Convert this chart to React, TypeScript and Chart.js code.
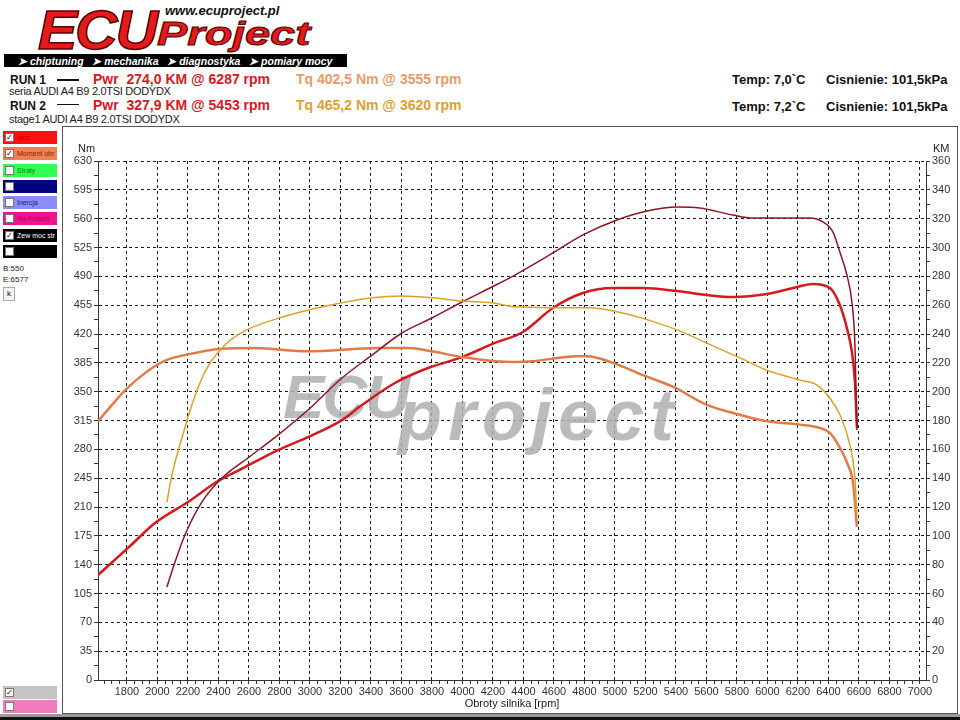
import React, { useEffect, useRef } from "react";
import { Chart, registerables } from "chart.js";
Chart.register(...registerables);

// ---------- DATA ----------
const RUN1_TQ_RPM = [1610, 1702, 1800, 2030, 2246, 2423, 2639, 2987, 3446, 3643, 3800, 3997, 4213, 4344, 4462, 4751, 4816, 4987, 5184, 5380, 5603, 5820, 5997, 6213, 6344, 6410, 6475, 6528, 6561, 6587];
const RUN1_TQ = [314, 334, 354, 386, 397, 402, 403, 399, 403, 403, 399, 392, 387, 386, 387, 393, 393, 385, 370, 356, 334, 322, 314, 310, 306, 300, 282, 261, 240, 186];

const RUN1_PWR_RPM = [1610, 1807, 1984, 2200, 2397, 2574, 2790, 2987, 3210, 3341, 3557, 3774, 3997, 4213, 4397, 4593, 4790, 4987, 5184, 5407, 5603, 5774, 5997, 6167, 6298, 6410, 6475, 6521, 6554, 6574, 6587];
const RUN1_PWR = [72.8, 91.6, 108.9, 123.5, 138.0, 147.7, 159.5, 168.5, 180.3, 190.7, 206.0, 216.4, 224.0, 233.8, 241.4, 258.0, 268.4, 271.9, 271.9, 269.8, 267.0, 265.6, 267.7, 271.9, 274.7, 271.9, 260.1, 244.2, 227.5, 206.7, 174.8];

const RUN2_TQ_RPM = [2062, 2095, 2161, 2226, 2311, 2423, 2554, 2790, 2987, 3210, 3407, 3603, 3800, 3997, 4193, 4344, 4593, 4836, 5013, 5184, 5407, 5603, 5820, 5997, 6213, 6325, 6410, 6475, 6541, 6574, 6587];
const RUN2_TQ = [216, 249, 294, 334, 374, 403, 422, 439, 449, 458, 464, 466, 464, 460, 458, 453, 452, 452, 447, 439, 425, 409, 391, 376, 364, 358, 342, 322, 285, 245, 200];

const RUN2_PWR_RPM = [2062, 2115, 2180, 2292, 2423, 2593, 2790, 2987, 3210, 3407, 3603, 3800, 3997, 4193, 4344, 4593, 4790, 5013, 5210, 5407, 5557, 5774, 5905, 6167, 6279, 6364, 6430, 6475, 6521, 6554, 6574, 6587];
const RUN2_PWR = [64.5, 81.8, 100.6, 123.5, 140.1, 154.0, 169.9, 187.3, 209.5, 225.4, 240.7, 251.1, 262.2, 272.6, 280.9, 296.2, 308.7, 319.1, 325.3, 328.1, 327.4, 322.5, 320.5, 320.5, 320.5, 317.7, 310.7, 296.9, 280.9, 262.2, 232.4, 173.4];

const X_TICK_LABELS = [1800, 2000, 2200, 2400, 2600, 2800, 3000, 3200, 3400, 3600, 3800, 4000, 4200, 4400, 4600, 4800, 5000, 5200, 5400, 5600, 5800, 6000, 6200, 6400, 6600, 6800, 7000];
const NM_TICK_LABELS = [0, 35, 70, 105, 140, 175, 210, 245, 280, 315, 350, 385, 420, 455, 490, 525, 560, 595, 630];
const KM_TICK_LABELS = [0, 20, 40, 60, 80, 100, 120, 140, 160, 180, 200, 220, 240, 260, 280, 300, 320, 340, 360];

const C_PWR1 = "#D41A1F";
const C_TQ1 = "#E27A45";
const C_PWR2 = "#8E1622";
const C_TQ2 = "#DDA12A";

const FONT = "Arial, 'Liberation Sans', sans-serif";

const pts = (xs: number[], ys: number[]) => xs.map((x, i) => ({ x, y: ys[i] }));

const watermark = {
  id: "watermark",
  beforeDatasetsDraw(chart: any) {
    const ctx = chart.ctx;
    ctx.save();
    ctx.fillStyle = "rgba(175,175,175,0.85)";
    ctx.font = "italic bold 62px Arial, 'Liberation Sans', sans-serif";
    (ctx as any).letterSpacing = "-2px";
    ctx.fillText("ECU", 220, 291);
    ctx.font = "italic bold 72px Arial, 'Liberation Sans', sans-serif";
    (ctx as any).letterSpacing = "6px";
    ctx.fillText("project", 335, 313);
    ctx.restore();
  },
};

function ChartView() {
  const ref = useRef<HTMLCanvasElement | null>(null);
  useEffect(() => {
    if (!ref.current) return;
    const xTicks: { value: number }[] = [];
    for (let v = 1650; v <= 7000; v += 50) xTicks.push({ value: v });
    const chart = new Chart(ref.current, {
      type: "line",
      data: {
        datasets: [
          { data: pts(RUN2_TQ_RPM, RUN2_TQ), borderColor: C_TQ2, borderWidth: 1.5, yAxisID: "y" },
          { data: pts(RUN2_PWR_RPM, RUN2_PWR), borderColor: C_PWR2, borderWidth: 1.5, yAxisID: "y1" },
          { data: pts(RUN1_TQ_RPM, RUN1_TQ), borderColor: C_TQ1, borderWidth: 2.5, yAxisID: "y" },
          { data: pts(RUN1_PWR_RPM, RUN1_PWR), borderColor: C_PWR1, borderWidth: 2.5, yAxisID: "y1" },
        ].map((d) => ({ ...d, pointRadius: 0, fill: false, cubicInterpolationMode: "monotone" as const })),
      },
      options: {
        responsive: false,
        animation: false,
        layout: { padding: { top: 34, left: 0, right: 0, bottom: 0 } },
        plugins: { legend: { display: false }, tooltip: { enabled: false } },
        scales: {
          x: {
            type: "linear",
            min: 1610,
            max: 7040,
            afterBuildTicks: (s: any) => {
              s.ticks = xTicks.map((t) => ({ ...t }));
            },
            afterFit: (s: any) => {
              s.height = 33;
            },
            ticks: {
              autoSkip: false,
              maxRotation: 0,
              padding: 1,
              color: "#333",
              font: { family: FONT, size: 11 },
              callback: (v: any) => (X_TICK_LABELS.includes(Number(v)) ? String(v) : ""),
            },
            grid: {
              color: (c: any) => (c.tick && X_TICK_LABELS.includes(c.tick.value) ? "#1a1a1a" : "rgba(0,0,0,0)"),
              tickColor: "#333",
              tickLength: 4,
              lineWidth: 1,
            },
            border: { display: true, color: "#333", width: 1, dash: [3, 3] },
            title: {
              display: true,
              text: "Obroty silnika [rpm]",
              color: "#222",
              font: { family: FONT, size: 11 },
              padding: { top: 0, bottom: 2 },
            },
          },
          y: {
            position: "left",
            min: 0,
            max: 630,
            afterFit: (s: any) => {
              s.width = 35;
            },
            ticks: {
              stepSize: 17.5,
              autoSkip: false,
              padding: 2,
              color: "#333",
              font: { family: FONT, size: 11 },
              callback: (v: any) => (NM_TICK_LABELS.includes(Number(v)) ? String(v) : ""),
            },
            grid: {
              color: (c: any) => (c.tick && NM_TICK_LABELS.includes(c.tick.value) && c.tick.value > 0 ? "#1a1a1a" : "rgba(0,0,0,0)"),
              tickColor: "#333",
              tickLength: 4,
            },
            border: { display: true, color: "#333", width: 1, dash: [3, 3] },
          },
          y1: {
            position: "right",
            min: 0,
            max: 360,
            afterFit: (s: any) => {
              s.width = 31;
            },
            ticks: {
              stepSize: 10,
              autoSkip: false,
              padding: 2,
              color: "#333",
              font: { family: FONT, size: 11 },
              callback: (v: any) => (KM_TICK_LABELS.includes(Number(v)) ? String(v) : ""),
            },
            grid: { drawOnChartArea: false, color: "#333", tickColor: "#333", tickLength: 4 },
            border: { display: true, color: "#333", width: 1 },
          },
        },
      },
      plugins: [watermark],
    } as any);
    return () => chart.destroy();
  }, []);
  return <canvas ref={ref} width={894} height={586} style={{ position: "absolute", left: 63, top: 127 }} />;
}

const abs = (left: number, top: number, extra: React.CSSProperties = {}): React.CSSProperties => ({
  position: "absolute",
  left,
  top,
  lineHeight: 1,
  whiteSpace: "nowrap",
  ...extra,
});

const SIDE_ROWS = [
  { top: 131, bg: "#FF1010", label: "Moc", fg: "#C00000", checked: true },
  { top: 147, bg: "#F08050", label: "Moment obr", fg: "#7A2A10", checked: true },
  { top: 164, bg: "#30FF50", label: "Straty", fg: "#108020", checked: false },
  { top: 180, bg: "#000080", label: "", fg: "#fff", checked: false },
  { top: 196, bg: "#8C8CFF", label: "Inercja", fg: "#202080", checked: false },
  { top: 212, bg: "#F0148C", label: "Na Kolach", fg: "#B00060", checked: false },
  { top: 229, bg: "#000000", label: "Zew moc str", fg: "#fff", checked: true },
  { top: 245, bg: "#000000", label: "", fg: "#fff", checked: false },
];

function SideRow({ top, bg, label, fg, checked, width = 54 }: any) {
  return (
    <div style={abs(3, top, { width, height: 13, background: bg })}>
      <div
        style={abs(2, 2, {
          width: 9,
          height: 9,
          background: "#fff",
          border: "1px solid #777",
          boxSizing: "border-box",
          fontSize: 8,
          color: "#000",
          textAlign: "center",
        })}
      >
        {checked ? "✓" : ""}
      </div>
      <div style={abs(14, 3, { fontSize: 7, color: fg, fontFamily: FONT })}>{label}</div>
    </div>
  );
}

export default function App() {
  useEffect(() => {
    document.body.style.margin = "0";
  }, []);
  return (
    <div style={{ position: "relative", width: 960, height: 720, background: "#fff", fontFamily: FONT, overflow: "hidden" }}>
      {/* Logo */}
      <div
        style={abs(38, 2, {
          fontSize: 56,
          fontWeight: 900,
          fontStyle: "italic",
          color: "#E31B1B",
          letterSpacing: -2,
          WebkitTextStroke: "1.5px #5a0000",
          transform: "scaleX(1.05)",
          transformOrigin: "left top",
        })}
      >
        ECU
      </div>
      <div style={abs(165, 4, { fontSize: 13, fontWeight: 700, fontStyle: "italic", color: "#111" })}>www.ecuproject.pl</div>
      <div
        style={abs(157, 16, {
          fontSize: 34,
          fontWeight: 900,
          fontStyle: "italic",
          color: "#E31B1B",
          WebkitTextStroke: "1px #5a0000",
          transform: "scaleX(1.33)",
          transformOrigin: "left top",
        })}
      >
        Project
      </div>
      <div style={abs(4, 54, { width: 343, height: 13, background: "#000" })}>
        <div style={abs(14, 1.5, { fontSize: 10.5, fontWeight: 700, fontStyle: "italic", color: "#fff", fontFamily: FONT })}>
          ➤ chiptuning&nbsp;&nbsp; ➤ mechanika&nbsp;&nbsp; ➤ diagnostyka&nbsp;&nbsp; ➤ pomiary mocy
        </div>
      </div>

      {/* Run info */}
      <div style={abs(10, 74, { fontSize: 12, fontWeight: 700, color: "#111" })}>RUN 1</div>
      <div style={abs(57, 79, { width: 22, height: 1.5, background: "#111" })} />
      <div style={abs(93, 72, { fontSize: 14, fontWeight: 700, color: C_PWR1 })}>Pwr&nbsp; 274,0 KM @ 6287 rpm</div>
      <div style={abs(296, 72, { fontSize: 14, fontWeight: 700, color: "#E99A68" })}>Tq 402,5 Nm @ 3555 rpm</div>
      <div style={abs(9, 86, { fontSize: 11, color: "#222", letterSpacing: -0.3 })}>seria AUDI A4 B9 2.0TSI DODYDX</div>

      <div style={abs(10, 100, { fontSize: 12, fontWeight: 700, color: "#111" })}>RUN 2</div>
      <div style={abs(57, 104, { width: 22, height: 1, background: "#111" })} />
      <div style={abs(93, 98, { fontSize: 14, fontWeight: 700, color: C_PWR1 })}>Pwr&nbsp; 327,9 KM @ 5453 rpm</div>
      <div style={abs(296, 98, { fontSize: 14, fontWeight: 700, color: "#E0A030" })}>Tq 465,2 Nm @ 3620 rpm</div>
      <div style={abs(9, 114, { fontSize: 11, color: "#222", letterSpacing: -0.3 })}>stage1 AUDI A4 B9 2.0TSI DODYDX</div>

      <div style={abs(732, 73, { fontSize: 13, fontWeight: 700, color: "#111" })}>Temp: 7,0`C</div>
      <div style={abs(826, 73, { fontSize: 13, fontWeight: 700, color: "#111" })}>Cisnienie: 101,5kPa</div>
      <div style={abs(732, 100, { fontSize: 13, fontWeight: 700, color: "#111" })}>Temp: 7,2`C</div>
      <div style={abs(826, 100, { fontSize: 13, fontWeight: 700, color: "#111" })}>Cisnienie: 101,5kPa</div>

      {/* Sidebar */}
      {SIDE_ROWS.map((r, i) => (
        <SideRow key={i} {...r} />
      ))}
      <div style={abs(3, 265, { fontSize: 8, color: "#222" })}>B:550</div>
      <div style={abs(3, 276, { fontSize: 8, color: "#222" })}>E:6577</div>
      <div
        style={abs(3, 287, {
          width: 12,
          height: 14,
          border: "1px solid #aaa",
          boxSizing: "border-box",
          background: "#f4f4f4",
          fontSize: 8,
          textAlign: "center",
          paddingTop: 2,
        })}
      >
        k
      </div>
      <SideRow top={686} bg="#C4C4C4" label="" fg="#fff" checked={true} />
      <SideRow top={700} bg="#F07CBE" label="" fg="#fff" checked={false} />

      {/* Chart frame */}
      <div style={abs(62, 126, { width: 896, height: 588, border: "1px solid #555", boxSizing: "border-box" })} />
      <div style={abs(0, 714, { width: 960, height: 3, background: "#9a9a9a" })} />
      <div style={abs(0, 717, { width: 960, height: 3, background: "#111" })} />
      <ChartView />
      <div style={abs(78, 143, { fontSize: 11, color: "#222" })}>Nm</div>
      <div style={abs(933, 143, { fontSize: 11, color: "#222" })}>KM</div>
    </div>
  );
}
